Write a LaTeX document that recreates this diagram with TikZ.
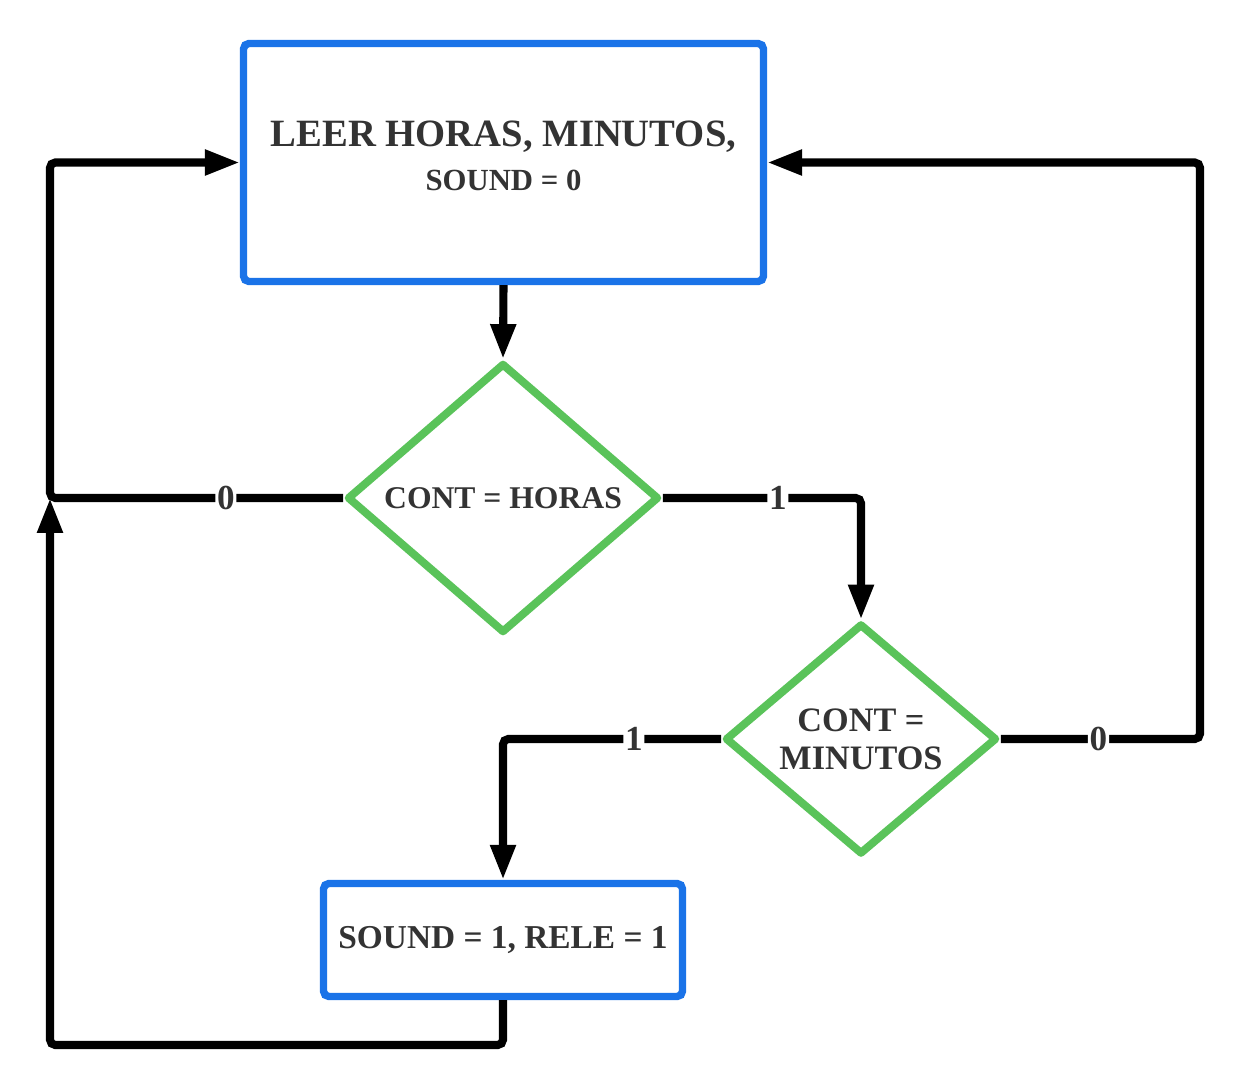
\documentclass[tikz,border=0pt]{standalone}
\usepackage{fontspec}
\setmainfont{Liberation Serif}
\usepackage{xcolor}
\usetikzlibrary{arrows.meta,positioning,shapes.geometric}
\definecolor{boxblue}{RGB}{26,115,232}
\definecolor{diagreen}{RGB}{90,195,90}
\definecolor{inkgray}{RGB}{51,51,51}

\begin{document}
\begin{tikzpicture}[
    x=0.02cm, y=-0.02cm,
    procbox/.style={rectangle, rounded corners=3pt, draw=boxblue, line width=4.2pt, fill=white, align=center, text=inkgray},
    decision/.style={diamond, draw=diagreen, line width=4.5pt, line join=round, inner sep=0pt, align=center, text=inkgray},
    flowline/.style={-{Triangle[length=0.7cm, width=0.48cm]}, line width=4.6pt, rounded corners=3pt, draw=black},
    branchlabel/.style={fill=white, inner sep=1pt, font=\bfseries\fontsize{20}{20}\selectfont, text=inkgray}
]
    \useasboundingbox (0,0) rectangle (1247,1091);

    % boxes and decisions
    \node (leer) [procbox, minimum width=10.4cm, minimum height=4.76cm, text depth=8pt, font=\bfseries\fontsize{22}{25}\selectfont] at (503.5,162.5)
        {LEER HORAS, MINUTOS,\\{\fontsize{17.5}{25}\selectfont SOUND = 0}};
    \node (horas) [decision, minimum width=6.24cm, minimum height=5.4cm, font=\bfseries\fontsize{18}{20}\selectfont] at (503,498)
        {CONT = HORAS};
    \node (minutos) [decision, minimum width=5.44cm, minimum height=4.62cm, font=\bfseries\fontsize{19.5}{21.5}\selectfont] at (861,739)
        {CONT =\\MINUTOS};
    \node (sonar) [procbox, minimum width=7.18cm, minimum height=2.26cm, font=\bfseries\fontsize{19}{22}\selectfont] at (503,940)
        {SOUND = 1, RELE = 1};

    % corner points of the loops
    \coordinate (cL) at (50,498);
    \coordinate (cR) at (1200,739);
    \coordinate (cB) at (50,1045);

    % connectors
    \draw [flowline] (leer.south) -- (horas.north);
    \draw [flowline] (horas.west) -- node[branchlabel, pos=0.4] {0} (cL) |- (leer.west);
    \draw [flowline] (horas.east) -| node[branchlabel, pos=0.29] {1} (minutos.north);
    \draw [flowline] (minutos.east) -- node[branchlabel, pos=0.49] {0} (cR) |- (leer.east);
    \draw [flowline] (minutos.west) -| node[branchlabel, pos=0.2] {1} (sonar.north);
    \draw [flowline] (sonar.south) |- (cB) -- (cL);
\end{tikzpicture}
\end{document}
